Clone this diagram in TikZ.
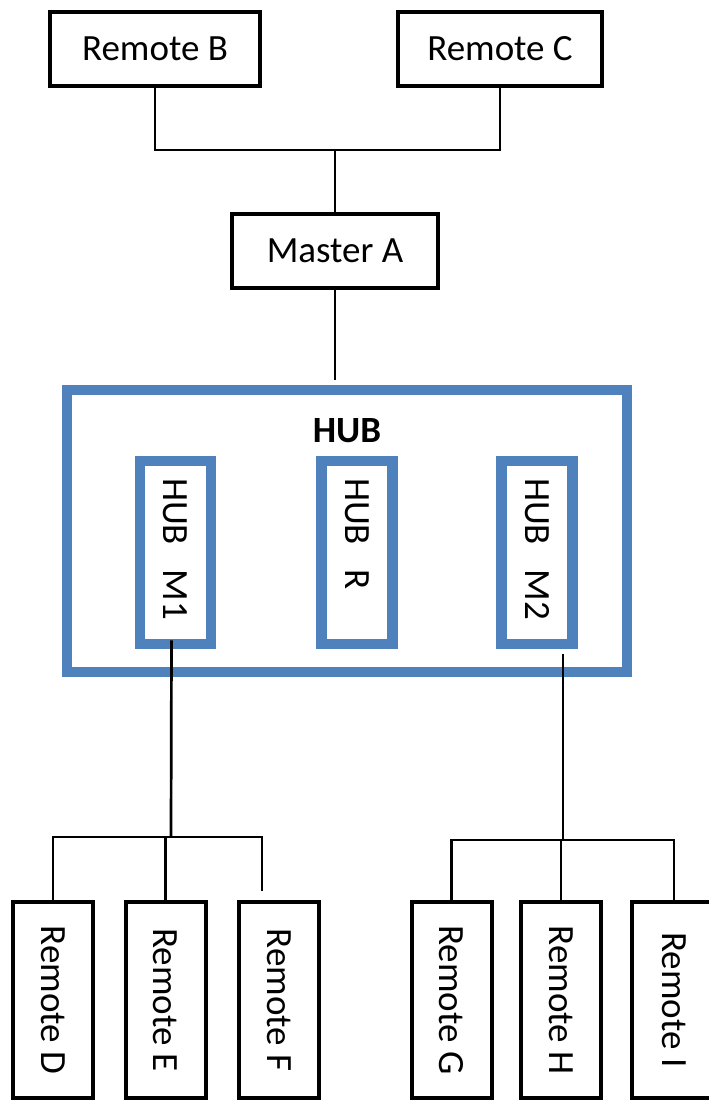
\documentclass[tikz,border=0pt]{standalone}
\usepackage{fontspec}
\setmainfont{Carlito}
\definecolor{hubblue}{RGB}{79,129,189}
\tikzset{
  BoxStyle/.style = { rectangle, draw, line width = 2pt,
                      inner sep = 0pt, minimum height = 37pt },
  WireStyle/.style = { line width = 1.35pt } }

\begin{document}
\begin{tikzpicture}[x=0.5pt,y=-0.5pt,font=\fontsize{18.5}{22}\selectfont]
  \useasboundingbox (0,0) rectangle (708,1101);
  \tikzset{
  HubStyle/.style = { rectangle, draw = hubblue, line width = 5.25pt } }
   \tikzstyle{PartStyle}=[HubStyle, rotate = -90, minimum width = 91.5pt,
       minimum height = 35.5pt, text width = 74.5pt, align = left,
       inner xsep = 8.5pt]
   \tikzstyle{RemoteStyle}=[BoxStyle, rotate = -90, minimum width = 98pt,
       minimum height = 40pt]

  % master and its remotes
  \node[BoxStyle, minimum width = 105pt] (rB) at (155,49) {Remote B};
  \node[BoxStyle, minimum width = 102pt] (rC) at (500,49) {Remote C};
  \node[BoxStyle, minimum width = 103pt] (mA) at (335,251) {Master A};

  % hub
  \node[HubStyle, minimum width = 280pt, minimum height = 141pt] (hub) at (347,531) {};
  \node[font = \fontsize{18.5}{22}\selectfont\bfseries] (hubTitle) at (347,431) {HUB};
  \node[PartStyle] (hM1) at (175.5,552.5) {HUB~~M1};
  \node[PartStyle] (hR)  at (357,552.5)   {HUB~~R};
  \node[PartStyle] (hM2) at (537,552.5)   {HUB~~M2};

  % remotes below
  \node[RemoteStyle] (rD) at (53,1000)    {Remote D};
  \node[RemoteStyle] (rE) at (165.5,1000) {Remote E};
  \node[RemoteStyle] (rF) at (279,1000)   {Remote F};
  \node[RemoteStyle] (rG) at (451.5,1000) {Remote G};
  \node[RemoteStyle] (rH) at (561,1000)   {Remote H};
  \node[RemoteStyle, minimum height = 42pt] (rI) at (674,1000) {Remote I};

  \coordinate (jTop) at (335,150);
  \coordinate (jL) at (171,837);
  \coordinate (jR) at (563,840);
  \coordinate (fEnd) at (262,891);

  \draw[WireStyle] (rB.south) |- (jTop) -| (rC.south);
  \draw[WireStyle] (jTop) -- (mA.north);
  \draw[WireStyle, shorten >= 2.6pt] (mA.south) -- (mA.south |- hub.north);

  \draw[WireStyle] ([xshift = -2pt, yshift = 4.5pt]hM1.east) -- (jL);
  \draw[WireStyle] (rD.west) |- (jL) -| (fEnd);
  \draw[WireStyle] (rE.west) -- (rE.west |- jL);

  \draw[WireStyle] ([xshift = 13pt, yshift = -2.5pt]hM2.east) -- (jR);
  \draw[WireStyle] (rG.west) |- (jR) -| (rI.west);
  \draw[WireStyle] (rH.west) -- (rH.west |- jR);
\end{tikzpicture}
\end{document}
